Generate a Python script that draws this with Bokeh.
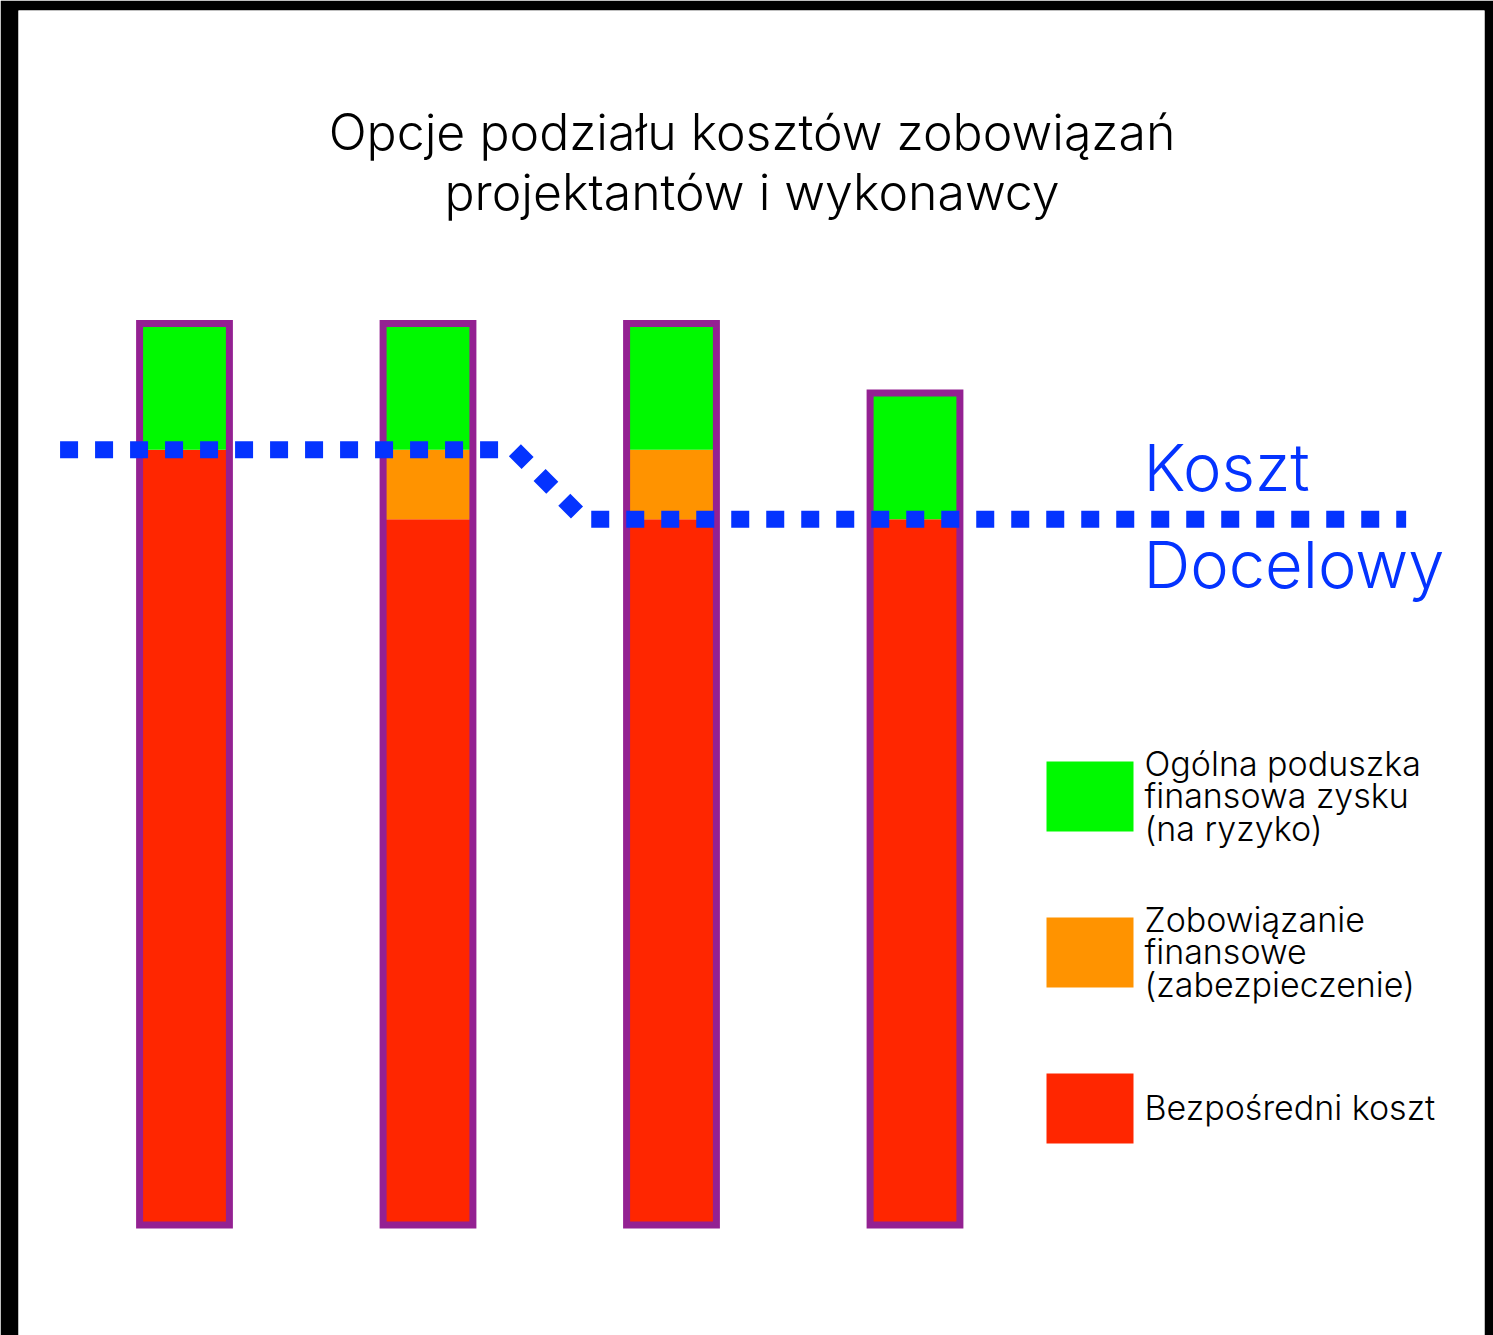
from bokeh.plotting import figure
from bokeh.models import Range1d, ColumnDataSource
from bokeh.core.properties import value
from bokeh.embed import file_html
from bokeh.resources import INLINE

# ---------------- data ----------------
title_lines = ["Opcje podziału kosztów zobowiązań", "projektantów i wykonawcy"]
options = [1, 2, 3, 4]
direct_cost = [86.0, 78.3, 78.3, 78.3]      # Bezpośredni koszt
commitment = [0.0, 7.7, 7.7, 0.0]           # Zobowiązanie finansowe
cushion = [14.0, 14.0, 14.0, 14.0]          # Ogólna poduszka finansowa zysku
target_x = [0.489, 2.355, 2.639, 6.017]
target_y = [86.0, 86.0, 78.3, 78.3]
target_label = ["Koszt", "Docelowy"]
legend_labels = [
    ["Ogólna poduszka", "finansowa zysku", "(na ryzyko)"],
    ["Zobowiązanie", "finansowe", "(zabezpieczenie)"],
    ["Bezpośredni koszt"],
]

# ---------------- style ----------------
GREEN = "#00F900"
ORANGE = "#FF9300"
RED = "#FF2600"
BLUE = "#0433FF"
PLUM = "#942192"
FONT = value("Inter Light")
legend_colors = [GREEN, ORANGE, RED]
BASE_SHIFT = 0.37   # renderer places the alphabetic baseline this fraction of the size lower

W, H = 1493, 1335
BL, BR, BT, BB = 18, 9, 10, 0
PX_X1, PX_PER_X = 184.0, 243.5
PX_Y0, PX_PER_Y = 1224.5, 9.015


def sx(px):
    return 1 + (px - PX_X1) / PX_PER_X


def sy(py):
    return (PX_Y0 - py) / PX_PER_Y


def put_text(px, py, txt, size, color="black", align="left"):
    p.text(x=[sx(px)], y=[sy(py - BASE_SHIFT * size)], text=[txt], text_align=align,
           text_baseline="alphabetic", text_font=FONT, text_font_size=f"{size}px",
           text_color=color)


p = figure(
    width=W, height=H, output_backend="svg", toolbar_location=None,
    title=None, x_axis_location=None, y_axis_location=None,
    x_range=Range1d(sx(BL), sx(W - BR)), y_range=Range1d(sy(H - BB), sy(BT)),
    min_border_left=BL, min_border_right=BR, min_border_top=BT, min_border_bottom=BB,
)
p.border_fill_color = "black"
p.background_fill_color = "white"
p.outline_line_color = None
p.xgrid.visible = False
p.ygrid.visible = False

src = ColumnDataSource(dict(x=options, direct=direct_cost, commit=commitment, cushion=cushion,
                            total=[a + b + c for a, b, c in zip(direct_cost, commitment, cushion)]))
BAR_W = 89.8 / PX_PER_X
p.vbar_stack(["direct", "commit", "cushion"], x="x", width=BAR_W, source=src,
             color=[RED, ORANGE, GREEN], line_color=None)
p.vbar(x="x", top="total", bottom=0, width=BAR_W, source=src,
       fill_color=None, line_color=PLUM, line_width=7, line_join="miter")

# target line
p.line(target_x, target_y, line_color=BLUE, line_width=17, line_dash="18 17",
       line_cap="butt", line_join="miter")

# title
for i, t in enumerate(title_lines):
    put_text(751.5, 150 + 60 * i, t, 50, align="center")

# target label
for i, t in enumerate(target_label):
    put_text(1143, 491 + 97 * i, t, 65, color=BLUE)

# legend
for k, (lines, col) in enumerate(zip(legend_labels, legend_colors)):
    top = 761 + 156 * k
    p.quad(left=[sx(1046)], right=[sx(1133)], top=[sy(top)], bottom=[sy(top + 70)],
           fill_color=col, line_color=None)
    center = top + 35
    first = center - (len(lines) - 1) * 32.5 / 2 + 12
    for j, t in enumerate(lines):
        put_text(1144, first + 32.5 * j, t, 34)

open("out.html", "w").write(file_html(p, INLINE))
